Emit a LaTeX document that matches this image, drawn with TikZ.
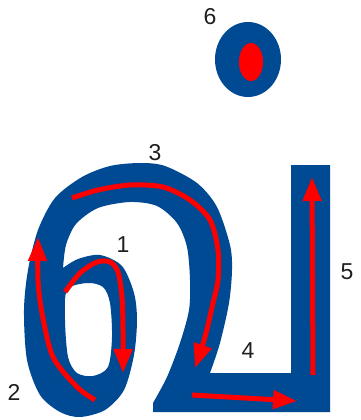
\documentclass[tikz,border=0pt]{standalone}
\usepackage{fontspec}
\setmainfont{Liberation Sans}
\usetikzlibrary{arrows.meta}
\definecolor{glyphblue}{RGB}{0,73,147}
\definecolor{strokered}{RGB}{255,0,0}
\tikzset{
  >={Triangle[length=24pt,width=18pt]},
  arr/.style={draw=strokered,line width=5pt,->},
  num/.style={font=\fontsize{23}{24}\selectfont,text=black!88,inner sep=0pt},
}
\begin{document}
\begin{tikzpicture}[x=1pt,y=-1pt]
\useasboundingbox (0,0) rectangle (360,420);
% letter body
\fill[glyphblue,even odd rule]
  (210,373) -- plot[smooth] coordinates {(210,373) (220,343) (229,303) (232,270) (230,245) (217,207) (197,183) (165,166) (140,163) (110,166) (82,177) (55,198) (38,230) (28,270) (24,310) (27,360) (40,395) (60,412) (80,417) (105,410) (124,390) (134,355) (137,320) (134,293) (122,266) (100,255) (78,259) (63,268)}
  -- plot[smooth] coordinates {(63,268) (66,245) (76,224) (98,208) (130,202) (157,206) (177,223) (187,247) (190,280) (189,310) (180,343) (167,377) (153,403)}
  -- (153,412) -- (330,412) -- (330,165) -- (291,165) -- (291,373) -- cycle
  plot[smooth cycle] coordinates {(67,290) (87,283) (103,287) (110,303) (112,337) (108,367) (93,376) (77,373) (68,357) (65,320)};
% dot
\fill[glyphblue] (248,59.5) ellipse [x radius=33,y radius=37.5];
\fill[strokered] (251,62) ellipse [x radius=12,y radius=19];
% strokes
\draw[arr] plot[smooth] coordinates {(65,292) (80,273) (97,262) (110,262) (118,272) (122,297) (123,330) (123,373)};
\draw[arr] plot[smooth] coordinates {(95,400) (77,387) (53,357) (42,313) (38,280) (38,237)};
\draw[arr] plot[smooth] coordinates {(72,198) (98,190) (130,185) (163,187) (190,200) (210,220) (218,250) (218,280) (213,303) (205,337) (195,368)};
\draw[arr] (192,395) -- (297,401);
\draw[arr] (313,375) -- (312,177);
% numbers
\node[num] (n1) at (123,245) {1};
\node[num] (n2) at (14,392) {2};
\node[num] (n3) at (155,153) {3};
\node[num] (n4) at (248,351) {4};
\node[num] (n5) at (347,272) {5};
\node[num] (n6) at (210,17) {6};
\end{tikzpicture}
\end{document}
